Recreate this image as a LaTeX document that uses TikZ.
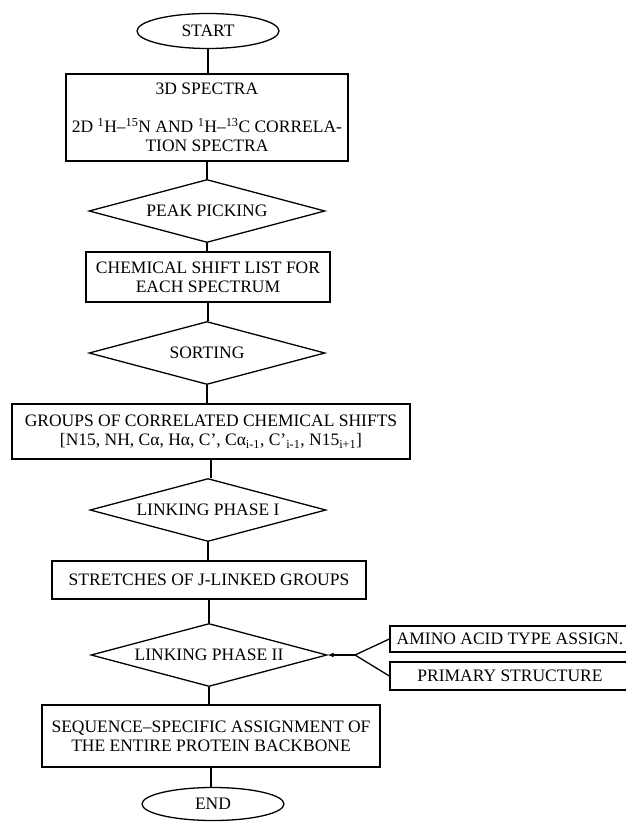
\documentclass[tikz,border=0pt]{standalone}
\usepackage{fontspec}
\setmainfont{Liberation Serif}
\usetikzlibrary{shapes.geometric,arrows.meta}
\tikzset{
  flowbox/.style={draw,rectangle,inner sep=0pt,align=center},
  decision/.style={draw,diamond,aspect=3.8,inner sep=0pt,minimum width=236pt,minimum height=63pt},
  terminal/.style={draw,ellipse,inner sep=0pt,minimum width=142pt,minimum height=35pt},
}
\begin{document}
\begin{tikzpicture}[x=1pt,y=-1pt,line width=1.3pt,font=\fontsize{17.5}{19}\selectfont]
    \useasboundingbox (0,0) rectangle (626,822);

    \node[terminal] (start) at (208,31) {START};
    \node[flowbox,minimum width=282pt,minimum height=87pt] (spec) at (207,117.5)
      {3D SPECTRA\\[19pt]2D \textsuperscript{1}H–\textsuperscript{15}N AND \textsuperscript{1}H–\textsuperscript{13}C CORRELA-\\TION SPECTRA};
    \node[decision] (peak) at (207,211) {PEAK PICKING};
    \node[flowbox,minimum width=244pt,minimum height=50pt] (chem) at (208,277)
      {CHEMICAL SHIFT LIST FOR\\EACH SPECTRUM};
    \node[decision] (sort) at (207,353) {SORTING};
    \node[flowbox,minimum width=398pt,minimum height=55pt] (groups) at (211,431.5)
      {GROUPS OF CORRELATED CHEMICAL SHIFTS\\{}%
       [N15, NH, Cα, Hα, C’, Cα\textsubscript{i-1}, C’\textsubscript{i-1}, N15\textsubscript{i+1}]};
    \node[decision] (link1) at (208,510) {LINKING PHASE I};
    \node[flowbox,minimum width=314pt,minimum height=38pt] (stretch) at (209,580)
      {STRETCHES OF J-LINKED GROUPS};
    \node[decision] (link2) at (209,655) {LINKING PHASE II};
    \node[flowbox,minimum width=338pt,minimum height=62pt] (seq) at (211,736)
      {SEQUENCE–SPECIFIC ASSIGNMENT OF\\THE ENTIRE PROTEIN BACKBONE};
    \node[terminal,minimum height=33pt] (end) at (213,804) {END};

    \node[flowbox,minimum width=240pt,minimum height=26pt] (amino) at (510,639) {AMINO ACID TYPE ASSIGN.};
    \node[flowbox,minimum width=240pt,minimum height=28pt] (primary) at (510,676) {PRIMARY STRUCTURE};
    \coordinate (fork) at (355,655);

    \foreach \a/\b in {start/spec,spec/peak,peak/chem,chem/sort,sort/groups,groups/link1,link1/stretch,stretch/link2,link2/seq,seq/end}
    \draw (\a.south) -- (\a.south |- \b.north);

    \draw[-{Latex[length=6pt,width=5pt]}] (fork) -- (link2.east);
    \draw (amino.west) -- (fork) -- (primary.west);

  \end{tikzpicture}
\end{document}
